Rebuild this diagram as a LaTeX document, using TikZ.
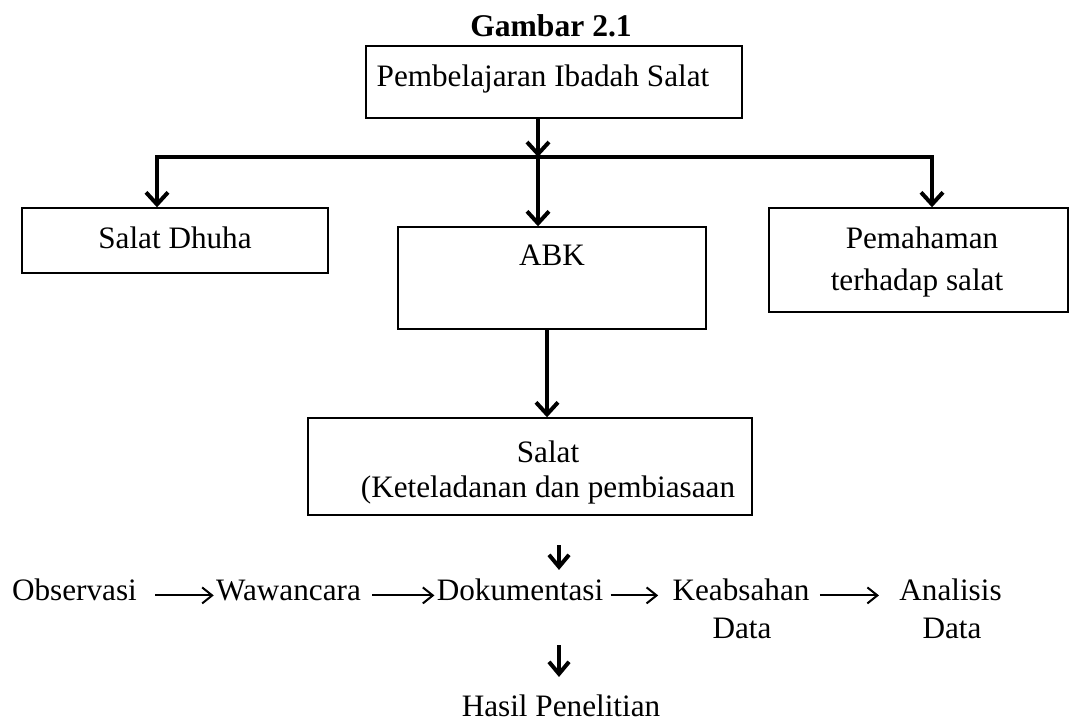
\documentclass[tikz,border=0pt]{standalone}
\usepackage{fontspec}
\setmainfont{Liberation Serif}
\usetikzlibrary{arrows.meta}
\begin{document}
\begin{tikzpicture}[x=0.5pt,y=-0.5pt,
  box/.style={draw,line width=0.7pt,inner sep=0pt},
  txt/.style={inner sep=0pt,anchor=base,font=\fontsize{15.6}{18}\selectfont},
  tarr/.style={line width=2pt,-{Straight Barb[length=6pt,width=11pt]}},
  sarr/.style={line width=2pt,-{Straight Barb[length=6pt,width=10pt]}},
  barline/.style={line width=2pt,line cap=rect},
  harr/.style={line width=1pt,-{Straight Barb[length=5pt,width=8pt]}}]
\useasboundingbox (0,0) rectangle (1070,722);
% title
\node[txt,font={\fontsize{15.8}{18}\selectfont\bfseries}] (title) at (551,37) {Gambar 2.1};
% boxes
\node[box,minimum width=188pt,minimum height=36pt] (top) at (554,82) {};
\node[txt] (topt) at (543,87) {Pembelajaran Ibadah Salat};
\node[box,minimum width=153pt,minimum height=32.5pt] (dhuha) at (175,240.5) {};
\node[txt] (dhuhat) at (175,248) {Salat Dhuha};
\node[box,minimum width=154pt,minimum height=51pt] (abk) at (552,278) {};
\node[txt] (abkt) at (552,265) {ABK};
\node[box,minimum width=149.5pt,minimum height=52pt] (pem) at (918.5,260) {};
\node[txt] (pemt1) at (922,248) {Pemahaman};
\node[txt] (pemt2) at (917,290) {terhadap salat};
\node[box,minimum width=222pt,minimum height=48.5pt] (salat) at (530,466.5) {};
\node[txt] (salatt1) at (548,462) {Salat};
\node[txt] (salatt2) at (548,497) {(Keteladanan dan pembiasaan};
% bottom row
\node[txt] (obs) at (74.5,600) {Observasi};
\node[txt] (waw) at (288.5,600) {Wawancara};
\node[txt] (dok) at (520,600) {Dokumentasi};
\node[txt] (keab) at (741,600) {Keabsahan};
\node[txt] (keabd) at (742,638) {Data};
\node[txt] (ana) at (950.5,600) {Analisis};
\node[txt] (anad) at (952,638) {Data};
\node[txt] (hasil) at (561,716) {Hasil Penelitian};
% connectors
\coordinate (bL) at (157,157);
\coordinate (bM) at (538,157);
\coordinate (bR) at (932,157);
\draw[tarr] (top.south -| bM) -- (bM);
\draw[barline] (bL) -- (bR);
\draw[tarr] (bL) -- (bL |- dhuha.north);
\draw[tarr] (bM) -- (bM |- abk.north);
\draw[tarr] (bR) -- (bR |- pem.north);
\coordinate (aK) at (547,330);
\draw[tarr] (abk.south -| aK) -- (aK |- salat.north);
\coordinate (d1) at (559,545);
\draw[sarr,shorten >=4pt] (d1) -- (d1 |- dok.north);
\coordinate (d2) at (559,645);
\draw[sarr,shorten >=8.5pt] (d2) -- (d2 |- hasil.north);
\draw[harr] ([xshift=9pt]obs.mid east) -- ([xshift=-1pt]waw.mid west);
\draw[harr] ([xshift=5.5pt]waw.mid east) -- ([xshift=-1pt]dok.mid west);
\draw[harr] ([xshift=3.5pt]dok.mid east) -- ([xshift=-7pt]keab.mid west);
\draw[harr] ([xshift=5pt]keab.mid east) -- ([xshift=-10pt]ana.mid west);
\end{tikzpicture}
\end{document}
